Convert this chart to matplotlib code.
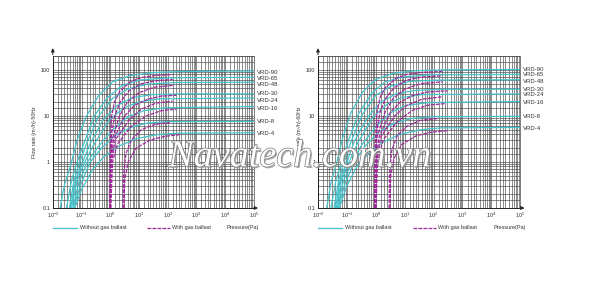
import matplotlib
matplotlib.use("Agg")
import matplotlib.pyplot as plt
import matplotlib.patheffects as pe
from matplotlib.ticker import LogLocator, FixedLocator, FixedFormatter, NullFormatter

plt.rcParams['font.family'] = ['Liberation Sans', 'DejaVu Sans']

# pump models, top to bottom
models = ['VRD-90', 'VRD-65', 'VRD-48', 'VRD-30', 'VRD-24', 'VRD-16', 'VRD-8', 'VRD-4']

# label heights at the right edge (m3/h)
labels_50 = [88, 66, 49, 30, 22, 14.4, 7.7, 4.2]
labels_60 = [100, 79, 57, 37, 29, 20, 9.5, 5.2]

# 50Hz, without gas ballast (pressure Pa, flow m3/h)
cyan50_x = [
    [0.018, 0.025, 0.045, 0.07, 0.15, 0.4, 1.2, 5, 30, 300, 1e5],
    [0.03, 0.045, 0.07, 0.12, 0.28, 0.8, 2.5, 10, 100, 1e5],
    [0.038, 0.055, 0.087, 0.15, 0.4, 1.2, 4, 20, 200, 1e5],
    [0.042, 0.062, 0.11, 0.2, 0.55, 1.8, 6, 30, 300, 1e5],
    [0.045, 0.07, 0.13, 0.25, 0.9, 3, 10, 50, 1e5],
    [0.05, 0.08, 0.16, 0.35, 1.2, 4, 15, 80, 1e5],
    [0.052, 0.09, 0.2, 0.5, 1.5, 6, 20, 100, 1e5],
    [0.058, 0.1, 0.25, 0.6, 2, 8, 40, 200, 1e5],
]
cyan50_y = [
    [0.1, 0.3, 1, 3, 10, 28, 55, 75, 87, 92, 95],
    [0.1, 0.4, 1, 2.5, 10, 25, 45, 60, 67, 69],
    [0.1, 0.4, 1, 2.5, 10, 24, 38, 49, 53, 54],
    [0.1, 0.4, 1, 2.5, 8, 17, 25, 29, 30, 30],
    [0.1, 0.4, 1, 2.2, 8, 15, 20, 23.5, 24.5],
    [0.1, 0.35, 1, 2, 5, 9.5, 13, 15, 16],
    [0.1, 0.3, 1, 2, 3.8, 5.8, 7, 7.5, 7.6],
    [0.1, 0.25, 0.7, 1.3, 2.2, 3.2, 3.9, 4.2, 4.3],
]

# 50Hz, with gas ballast
purple50_x = [
    [0.95, 1.0, 1.05, 1.12, 1.4, 2.2, 5, 12, 40, 150],
    [0.97, 1.02, 1.1, 1.45, 2.2, 4.5, 12, 40, 150],
    [1.0, 1.04, 1.15, 2.1, 4, 10, 35, 150],
    [1.0, 1.06, 1.3, 3.2, 7, 20, 60, 200],
    [1.02, 1.1, 1.5, 4.5, 12, 40, 150],
    [1.05, 1.2, 1.8, 5.5, 18, 60, 200],
    [2.8, 2.9, 3.5, 5.5, 12, 35, 120],
    [3.0, 3.2, 4.2, 8, 25, 80, 250],
]
purple50_y = [
    [0.1, 1, 4, 10, 20, 35, 55, 68, 76, 79],
    [0.1, 1, 4, 10, 20, 35, 50, 58, 62],
    [0.1, 1, 3, 10, 20, 32, 42, 46],
    [0.1, 1, 3, 10, 17, 23, 27, 28],
    [0.1, 1, 3, 8, 14, 19, 21],
    [0.1, 1, 2.5, 6, 10, 13, 14],
    [0.1, 0.5, 1.5, 3, 5, 6.5, 7.2],
    [0.1, 0.4, 1, 2, 3, 3.6, 3.9],
]

# 60Hz, without gas ballast
cyan60_x = [
    [0.02, 0.028, 0.045, 0.07, 0.14, 0.35, 1, 4, 25, 300, 1e5],
    [0.028, 0.042, 0.065, 0.11, 0.25, 0.7, 2, 8, 80, 1e5],
    [0.036, 0.052, 0.08, 0.14, 0.35, 1, 3.5, 15, 150, 1e5],
    [0.04, 0.058, 0.1, 0.18, 0.5, 1.5, 5, 25, 250, 1e5],
    [0.043, 0.065, 0.12, 0.23, 0.8, 2.5, 8, 40, 1e5],
    [0.047, 0.075, 0.15, 0.32, 1.1, 3.5, 12, 70, 1e5],
    [0.05, 0.085, 0.18, 0.45, 1.3, 5, 18, 90, 1e5],
    [0.055, 0.095, 0.22, 0.55, 1.8, 7, 35, 180, 1e5],
]
cyan60_y = [
    [0.1, 0.35, 1, 3.2, 12, 33, 62, 84, 96, 100, 102],
    [0.1, 0.4, 1, 2.8, 11, 30, 54, 70, 78, 80],
    [0.1, 0.4, 1, 2.8, 11, 28, 45, 56, 60, 61],
    [0.1, 0.4, 1, 2.8, 9, 20, 30, 36, 38, 38],
    [0.1, 0.4, 1, 2.5, 9.5, 18, 25, 29, 30],
    [0.1, 0.38, 1, 2.3, 6.3, 12, 17, 19.5, 20.5],
    [0.1, 0.33, 1, 2.3, 4.5, 7.2, 8.8, 9.6, 9.8],
    [0.1, 0.28, 0.8, 1.5, 2.7, 4, 5, 5.5, 5.6],
]

# 60Hz, with gas ballast
purple60_x = [
    [0.9, 0.95, 1.0, 1.1, 1.4, 2.2, 5, 12, 40, 200],
    [0.92, 0.97, 1.05, 1.4, 2.2, 4.5, 12, 40, 200],
    [0.95, 1.0, 1.1, 2.1, 4, 10, 35, 200],
    [0.97, 1.03, 1.3, 3.2, 7, 20, 60, 300],
    [1.0, 1.07, 1.5, 4.5, 12, 40, 200],
    [1.02, 1.15, 1.8, 5.5, 18, 60, 250],
    [2.9, 3.0, 3.6, 5.5, 12, 35, 150],
    [3.1, 3.3, 4.3, 8, 25, 80, 300],
]
purple60_y = [
    [0.1, 1, 4, 12, 25, 42, 65, 80, 88, 92],
    [0.1, 1, 4, 12, 24, 42, 60, 70, 74],
    [0.1, 1, 3.5, 12, 24, 38, 50, 55],
    [0.1, 1, 3.5, 12, 20, 28, 33, 35],
    [0.1, 1, 3.5, 10, 17, 23, 26],
    [0.1, 1, 3, 7.5, 13, 17, 18.5],
    [0.1, 0.6, 1.8, 3.7, 6, 8, 8.8],
    [0.1, 0.5, 1.2, 2.4, 3.7, 4.4, 4.8],
]

CYAN = '#45c3cc'
PURPLE = '#a3279c'
GRID = '#4a4a4a'

fig = plt.figure(figsize=(6.0, 3.01), dpi=100)
fig.patch.set_facecolor('white')


def draw_panel(rect, cx, cy, px, py, labels, ylabel):
    ax = fig.add_axes(rect)
    ax.set_xscale('log')
    ax.set_yscale('log')
    ax.set_xlim(1e-2, 1e5)
    ax.set_ylim(0.1, 200)

    subs = (1.5, 2, 2.5, 3, 4, 5, 6, 7, 8, 9)
    ax.xaxis.set_major_locator(LogLocator(base=10, numticks=10))
    ax.xaxis.set_minor_locator(LogLocator(base=10, subs=subs, numticks=20))
    ax.xaxis.set_minor_formatter(NullFormatter())
    ax.yaxis.set_major_locator(FixedLocator([0.1, 1, 10, 100]))
    ax.yaxis.set_major_formatter(FixedFormatter(['0.1', '1', '10', '100']))
    ax.yaxis.set_minor_locator(LogLocator(base=10, subs=(1.5, 2, 3, 4, 5, 6, 7, 8, 9), numticks=20))
    ax.yaxis.set_minor_formatter(NullFormatter())
    ax.grid(True, which='both', color=GRID, lw=0.45)
    ax.set_axisbelow(True)
    ax.tick_params(which='both', length=0, labelsize=4, pad=2, colors='#333333')

    for s in ['top', 'right']:
        ax.spines[s].set_color(GRID)
        ax.spines[s].set_linewidth(0.5)
    for s in ['left', 'bottom']:
        ax.spines[s].set_color('#222222')
        ax.spines[s].set_linewidth(0.7)

    # axis arrows
    ax.annotate('', xy=(0, 1.07), xytext=(0, 0.99), xycoords='axes fraction',
                arrowprops=dict(arrowstyle='-|>', lw=0.7, color='#222222', mutation_scale=5))
    ax.annotate('', xy=(1.035, 0), xytext=(0.99, 0), xycoords='axes fraction',
                arrowprops=dict(arrowstyle='-|>', lw=0.7, color='#222222', mutation_scale=5))

    for xs, ys in zip(cx, cy):
        ax.plot(xs, ys, color=CYAN, lw=0.9, solid_capstyle='round')
    for xs, ys in zip(px, py):
        ax.plot(xs, ys, color=PURPLE, lw=0.9, ls=(0, (3, 1)))

    trans = ax.get_yaxis_transform()
    for name, yv in zip(models, labels):
        ax.text(1.015, yv, name, transform=trans, fontsize=4.3, va='center', ha='left', color='#333333')

    ax.set_ylabel(ylabel, fontsize=3.8, labelpad=2.5, color='#333333')

    # legend row under the axes
    ax.plot([0.0, 0.12], [-0.13, -0.13], transform=ax.transAxes, color=CYAN, lw=0.9, clip_on=False)
    ax.text(0.135, -0.13, 'Without gas ballast', transform=ax.transAxes, fontsize=4,
            va='center', ha='left', color='#333333')
    ax.plot([0.47, 0.585], [-0.13, -0.13], transform=ax.transAxes, color=PURPLE, lw=0.9,
            ls=(0, (3, 1)), clip_on=False)
    ax.text(0.592, -0.13, 'With gas ballast', transform=ax.transAxes, fontsize=4,
            va='center', ha='left', color='#333333')
    ax.text(0.866, -0.13, 'Pressure(Pa)', transform=ax.transAxes, fontsize=4,
            va='center', ha='left', color='#333333')
    return ax


draw_panel([0.088, 0.309, 0.335, 0.505], cyan50_x, cyan50_y, purple50_x, purple50_y,
           labels_50, 'Flow rate (m\u00b3/h)-50Hz')
draw_panel([0.530, 0.309, 0.337, 0.505], cyan60_x, cyan60_y, purple60_x, purple60_y,
           labels_60, 'Flow rate (m\u00b3/h)-60Hz')

# watermark
fig.text(0.5, 0.478, 'Navatech.com.vn', fontsize=27.5, family='Liberation Serif', style='italic',
         color='white', ha='center', va='center', zorder=10,
         path_effects=[pe.SimplePatchShadow(offset=(1.2, -1.2), shadow_rgbFace='#999999', alpha=0.8),
                       pe.withStroke(linewidth=1.0, foreground='#7a7a7a')])

fig.savefig('out.png', dpi=100, facecolor='white')
